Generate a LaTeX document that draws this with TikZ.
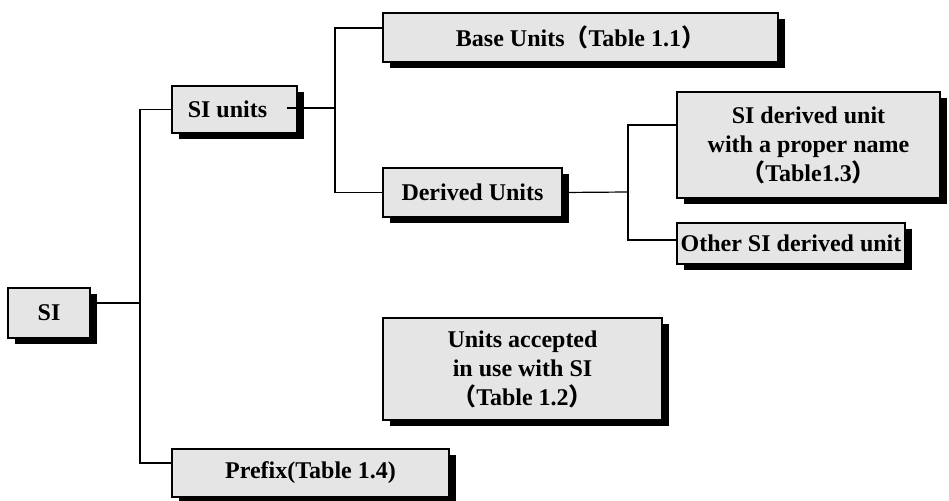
\documentclass[tikz,border=0pt]{standalone}
\usepackage{fontspec}
\setmainfont{Liberation Serif}
\newfontfamily\cjk{Noto Sans CJK JP}
\usetikzlibrary{shadows,backgrounds}
\definecolor{boxfill}{RGB}{229,229,229}
% full-width parentheses
\newcommand{\flp}{{\cjk（}}
\newcommand{\frp}{{\cjk）}}
\tikzset{
  unitbox/.style={draw=black, line width=1.3pt, fill=boxfill, align=center,
    inner sep=0pt,
    drop shadow={shadow xshift=7pt, shadow yshift=-6pt, fill=black, opacity=1}},
  link/.style={draw=black, line width=1.2pt}
}
\begin{document}
\begin{tikzpicture}[x=1pt, y=-1pt, font=\fontsize{24}{29}\selectfont\bfseries]
\useasboundingbox (0,0) rectangle (949,500);

% boxes
\node[unitbox, minimum width=82pt,  minimum height=50pt]  (si)      at (49,313)    {SI};
\node[unitbox, minimum width=125pt, minimum height=47pt]  (siunits) at (234.5,109.5) {SI units\hspace*{14pt}};
\node[unitbox, minimum width=395pt, minimum height=49pt]  (base)    at (580.5,37.5) {Base Units\flp Table 1.1\frp};
\node[unitbox, minimum width=179pt, minimum height=49pt]  (derived) at (472.5,192.5) {Derived Units};
\node[unitbox, minimum width=263pt, minimum height=106pt] (proper)  at (808.5,145)  {SI derived unit\\with a proper name\\\flp Table1.3\frp};
\node[unitbox, minimum width=228pt, minimum height=41pt]  (other)   at (791,243.5)  {Other SI derived unit};
\node[unitbox, minimum width=279pt, minimum height=102pt] (accepted) at (522.5,369) {Units accepted\\in use with SI\\\flp Table 1.2\frp};
\node[unitbox, minimum width=277pt, minimum height=48pt]  (prefix)  at (310.5,473)  {Prefix(Table 1.4)};

% junction points of the tree
\coordinate (jA) at (140,303);
\coordinate (jB) at (335,108);
\coordinate (jC) at (628,192);

% connectors, kept under the boxes and their shadows
\begin{scope}[on background layer]
  \draw[link] (si.east |- jA) -- (jA);
  \draw[link] (siunits.west) -| (jA) |- ([yshift=10pt]prefix.west);
  \draw[link] ([yshift=9.5pt]base.west) -| (jB) |- (derived.west);
  \draw[link] (derived.east) -- (jC);
  \draw[link] ([yshift=20pt]proper.west) -| (jC) |- ([yshift=3.5pt]other.west);
\end{scope}
\draw[link] ([xshift=-11pt]siunits.east |- jB) -- (jB);
\end{tikzpicture}
\end{document}
